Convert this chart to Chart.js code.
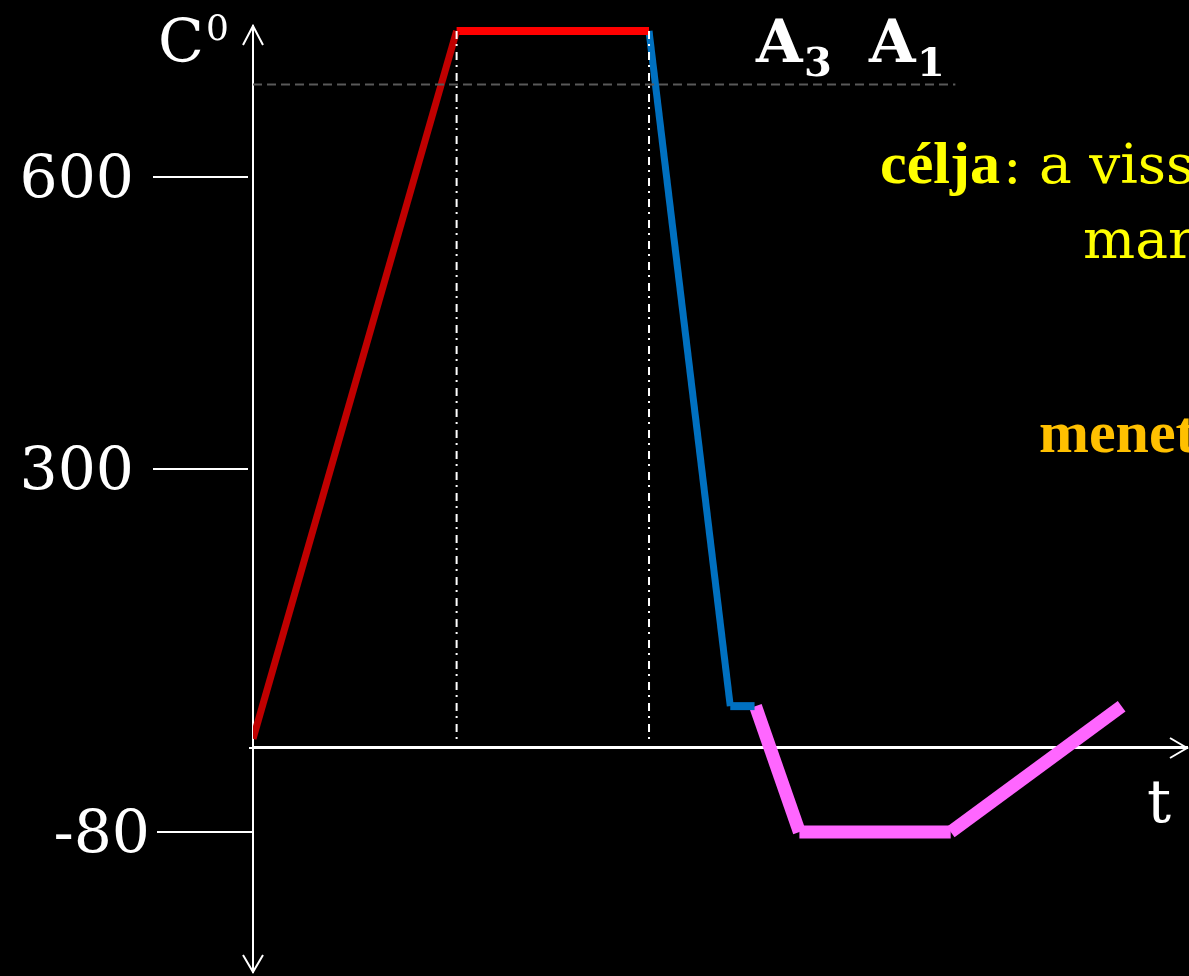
<!DOCTYPE html>
<html>
<head>
<meta charset="utf-8">
<script src="https://cdn.jsdelivr.net/npm/chart.js@4"></script>
<style>
  html, body { margin: 0; padding: 0; background: #000; }
  #box { width: 1189px; height: 976px; }
</style>
</head>
<body>
<div id="box"><canvas id="cycle" width="1189" height="976"></canvas></div>
<script>
// temperature ticks on the vertical axis (°C)
let tempTicks = [600, 300, -80];

// each stage of the cycle is its own segment: [t, °C] pairs
let heatTime = [0, 21.8],     heatTemp = [10, 750];   // heating
let holdTime = [21.8, 42.4],  holdTemp = [750, 750];  // soaking
let quenchTime = [42.4, 51.1], quenchTemp = [750, 45]; // quench
let roomTime = [51.1, 53.7],  roomTemp = [45, 45];
let coolTime = [53.8, 58.5],  coolTemp = [45, -80];   // sub-zero cooling
let deepTime = [58.5, 74.7],  deepTemp = [-80, -80];
let warmTime = [74.7, 93.0],  warmTemp = [-80, 45];   // back to room temp

// guide lines
let a3Time = [0, 75.2], a3Temp = [695, 695];
let holdMarks = [21.8, 42.4];
let markTemp = [750, 8];

// the axis is drawn schematically: each stop pins a value to a share of the axis height
let axisStops = [[-80, 0.148], [0, 0.2368], [300, 0.5317], [600, 0.8404]];

class StretchedScale extends Chart.LinearScale {
  share(v) {
    let i = 1;
    while (i < axisStops.length - 1 && v > axisStops[i][0]) i++;
    let [v0, f0] = axisStops[i - 1], [v1, f1] = axisStops[i];
    return f0 + (v - v0) * (f1 - f0) / (v1 - v0);
  }
  getPixelForValue(v) {
    return this.bottom - this.share(v) * (this.bottom - this.top);
  }
  getValueForPixel(p) {
    let f = (this.bottom - p) / (this.bottom - this.top);
    let i = 1;
    while (i < axisStops.length - 1 && f > axisStops[i][1]) i++;
    let [v0, f0] = axisStops[i - 1], [v1, f1] = axisStops[i];
    return v0 + (f - f0) * (v1 - v0) / (f1 - f0);
  }
}
StretchedScale.id = 'stretched';
StretchedScale.defaults = Chart.LinearScale.defaults;
Chart.register(StretchedScale);

function pts(xs, ys) {
  return xs.map((x, i) => ({ x: x, y: ys[i] }));
}

function seg(xs, ys, color, width, dash) {
  return {
    data: pts(xs, ys),
    borderColor: color,
    borderWidth: width,
    borderDash: dash || [],
    borderCapStyle: 'butt',
    pointRadius: 0,
    tension: 0,
    fill: false
  };
}

// arrows, tick marks and all the lettering
let decorations = {
  id: 'decorations',
  beforeDraw(chart) {
    let c = chart.ctx;
    c.save();
    c.fillStyle = '#000';
    c.fillRect(0, 0, chart.width, chart.height);
    c.restore();
  },
  afterDraw(chart) {
    let c = chart.ctx;
    let xs = chart.scales.x, ys = chart.scales.y;
    let ax = xs.getPixelForValue(0);
    let ay = ys.getPixelForValue(0);
    let top = chart.chartArea.top, bottom = chart.chartArea.bottom, right = chart.chartArea.right;

    c.save();
    c.strokeStyle = '#fff';
    c.lineWidth = 2;
    c.beginPath();
    // up arrow
    c.moveTo(ax - 10, top + 19); c.lineTo(ax, top); c.lineTo(ax + 10, top + 19);
    // down arrow
    c.moveTo(ax - 10, bottom - 17); c.lineTo(ax, bottom); c.lineTo(ax + 10, bottom - 17);
    // right arrow
    c.moveTo(right - 17, ay - 10); c.lineTo(right, ay); c.lineTo(right - 17, ay + 10);
    // x axis runs a little past the vertical one
    c.moveTo(ax - 4, ay); c.lineTo(ax, ay);
    c.stroke();

    // ticks and their labels
    c.fillStyle = '#fff';
    c.font = '60px "DejaVu Serif"';
    c.textAlign = 'right';
    c.textBaseline = 'alphabetic';
    tempTicks.forEach(v => {
      let py = ys.getPixelForValue(v);
      let shift = v < 0 ? 4 : 0;
      c.beginPath();
      c.moveTo(ax - 100 + shift, py);
      c.lineTo(ax - 5 + shift, py);
      c.stroke();
      c.fillText(String(v), ax - 119 + shift * 4, py + 21);
    });

    c.textAlign = 'left';
    c.fillText('C', 158, top + 36);
    c.font = '36px "DejaVu Serif"';
    c.fillText('0', 206, top + 14);
    c.font = '60px "DejaVu Serif"';
    c.fillText('t', 1147, 822);

    // critical points
    c.font = 'bold 60px "DejaVu Serif"';
    c.fillText('A', 756, 62);
    c.fillText('A', 869, 62);
    c.font = 'bold 40px "DejaVu Serif"';
    c.fillText('3', 804, 76);
    c.fillText('1', 917, 76);

    // side notes
    c.font = 'bold 60px "Liberation Serif"';
    c.fillStyle = '#ffff00';
    c.fillText('célja', 880, 183);
    let w = c.measureText('célja').width;
    c.font = '55px "DejaVu Serif"';
    c.fillText(': a visszamaradó ausztenit', 880 + w + 3, 183);
    c.fillText('martenzitté alakítása', 1083, 258);
    c.font = 'bold 60px "Liberation Serif"';
    c.fillStyle = '#ffc000';
    c.fillText('menete', 1039, 452);
    c.restore();
  }
};

let ctx = document.getElementById('cycle').getContext('2d');
let cycleChart = new Chart(ctx, {
  type: 'line',
  data: {
    datasets: [
      seg(a3Time, a3Temp, '#595959', 2, [9, 5]),
      seg([holdMarks[0], holdMarks[0]], markTemp, '#ffffff', 2, [8, 5, 2, 6]),
      seg([holdMarks[1], holdMarks[1]], markTemp, '#ffffff', 2, [8, 5, 2, 6]),
      seg(heatTime, heatTemp, '#c00000', 7),
      seg(holdTime, holdTemp, '#ff0000', 8),
      seg(quenchTime, quenchTemp, '#0070c0', 7),
      seg(roomTime, roomTemp, '#0070c0', 8),
      seg(coolTime, coolTemp, '#ff66ff', 13),
      seg(deepTime, deepTemp, '#ff66ff', 13),
      seg(warmTime, warmTemp, '#ff66ff', 13)
    ]
  },
  options: {
    responsive: false,
    animation: false,
    events: [],
    layout: { padding: { left: 253, top: 26, right: 2, bottom: 4 } },
    plugins: { legend: { display: false }, tooltip: { enabled: false } },
    scales: {
      x: {
        type: 'linear',
        min: 0,
        max: 100,
        position: { y: 0 },
        ticks: { display: false },
        grid: { drawOnChartArea: false, drawTicks: false },
        border: { display: true, color: '#ffffff', width: 3 }
      },
      y: {
        type: 'stretched',
        min: -213,
        max: 755,
        position: { x: 0 },
        ticks: { display: false },
        grid: { drawOnChartArea: false, drawTicks: false },
        border: { display: true, color: '#ffffff', width: 2 }
      }
    }
  },
  plugins: [decorations]
});
</script>
</body>
</html>
